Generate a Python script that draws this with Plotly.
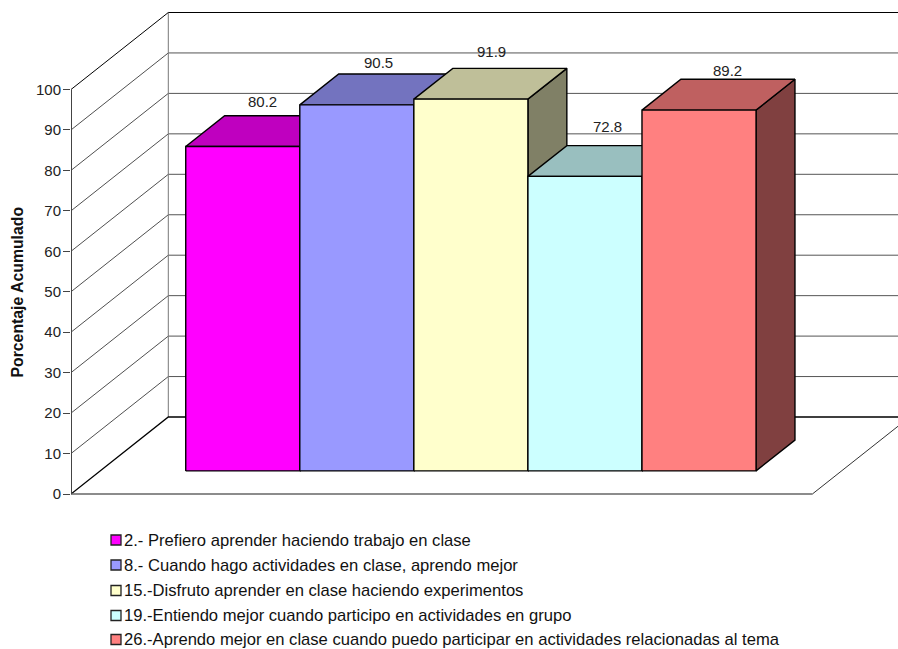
import plotly.graph_objects as go

categories = [
    "2.- Prefiero aprender haciendo trabajo en clase",
    "8.- Cuando hago actividades en clase, aprendo mejor",
    "15.-Disfruto aprender en clase haciendo experimentos",
    "19.-Entiendo mejor cuando participo en actividades en grupo",
    "26.-Aprendo mejor en clase cuando puedo participar en actividades relacionadas al tema",
]
values = [80.2, 90.5, 91.9, 72.8, 89.2]
y_ticks = list(range(0, 101, 10))
y_title = "Porcentaje Acumulado"

front_colors = ["#FF00FF", "#9999FF", "#FFFFCC", "#CCFFFF", "#FF8080"]
top_colors = ["#BF00BF", "#7373BF", "#BFBF99", "#99BFBF", "#BF6060"]
side_colors = ["#800080", "#4D4D80", "#808066", "#668080", "#804040"]

# Nudges (px) for value labels, relative to the centre of each bar's top
label_dx = [0, 2, 1, 3, 9]
label_dy = [14, 12, 17, 19, 9]

WIDTH, HEIGHT = 898, 649
LEFT = 71
ZERO_PX, HUNDRED_PX = 494, 89.5
UNIT_X = 114.06
UNIT_Y = (ZERO_PX - HUNDRED_PX) / 100
SKEW_X = 97.3 / UNIT_X      # horizontal drift per unit of depth
SKEW_Y = 77 / UNIT_Y        # vertical drift per unit of depth
FLOOR_W = 6.5
BAR_START = 0.75
DEPTH_NEAR, DEPTH_FAR = 0.30, 0.70


def proj(x, y, d):
    """Oblique projection of (category position, value, depth) onto the plane."""
    return x + SKEW_X * d, y + SKEW_Y * d


def polyline(points):
    xs, ys = zip(*[proj(*p) for p in points])
    return list(xs), list(ys)


def page_x(px):
    return (px - LEFT) / (WIDTH - LEFT)


def page_y(px):
    return 1 - px / HEIGHT


fig = go.Figure()


def add_lines(segments, color, width):
    xs, ys = [], []
    for seg in segments:
        sx, sy = polyline(seg)
        xs += sx + [None]
        ys += sy + [None]
    fig.add_trace(go.Scatter(x=xs, y=ys, mode="lines", showlegend=False, hoverinfo="skip",
                             line=dict(color=color, width=width)))


# Walls and floor
inner = [t for t in y_ticks if 0 < t < 100]
add_lines([[(0, t, 0), (0, t, 1)] for t in inner], "#222222", 0.8)
add_lines([[(0, t, 1), (FLOOR_W, t, 1)] for t in inner], "#555555", 1)
add_lines([[(0, 0, 1), (0, 100, 1)]], "#777777", 1)
add_lines([[(0, 100, 0), (0, 100, 1), (FLOOR_W, 100, 1)]], "#000000", 1)
add_lines([[(0, 0, 0), (0, 0, 1), (FLOOR_W, 0, 1)]], "#000000", 1.3)
add_lines([[(0, 0, 0), (FLOOR_W, 0, 0)]], "#666666", 1.3)
add_lines([[(FLOOR_W, 0, 0), (FLOOR_W, 0, 1)]], "#333333", 1)
add_lines([[(0, 0, 0), (0, 100, 0)]], "#444444", 2)


def add_face(points, color, name):
    xs, ys = polyline(points + [points[0]])
    fig.add_trace(go.Scatter(x=xs, y=ys, mode="lines", fill="toself", fillcolor=color,
                             name=name, showlegend=False, hoveron="fills",
                             line=dict(color="#000000", width=1.4)))


annotations = []
for i, (name, v) in enumerate(zip(categories, values)):
    x0, x1 = BAR_START + i, BAR_START + i + 1
    n, f = DEPTH_NEAR, DEPTH_FAR
    add_face([(x1, 0, n), (x1, 0, f), (x1, v, f), (x1, v, n)], side_colors[i], name)
    add_face([(x0, v, n), (x0, v, f), (x1, v, f), (x1, v, n)], top_colors[i], name)
    add_face([(x0, 0, n), (x1, 0, n), (x1, v, n), (x0, v, n)], front_colors[i], name)
    lx, ly = proj((x0 + x1) / 2, v, f)
    annotations.append(dict(x=lx - SKEW_X * (f - n) / 2, y=ly, text=f"{v:.1f}", showarrow=False,
                            xshift=label_dx[i], yshift=label_dy[i],
                            font=dict(size=15, color="#222222")))

# Axis title
annotations.append(dict(xref="paper", yref="paper", x=page_x(17.5), y=page_y(292),
                        xanchor="center", yanchor="middle",
                        text=f"<b>{y_title}</b>", textangle=-90, showarrow=False,
                        font=dict(size=15.8, color="#111111")))

# Key below the chart
shapes = []
row_y = [540, 565, 590.5, 615.5, 639.5]
for name, color, cy in zip(categories, front_colors, row_y):
    shapes.append(dict(type="rect", xref="paper", yref="paper",
                       x0=page_x(111), x1=page_x(121),
                       y0=page_y(cy + 5), y1=page_y(cy - 5),
                       fillcolor=color, line=dict(color="#222222", width=1.3)))
    annotations.append(dict(xref="paper", yref="paper", x=page_x(122.5), y=page_y(cy),
                            text=name, showarrow=False, xanchor="left", yanchor="middle",
                            borderpad=0,
                            font=dict(size=16.6, color="#111111")))

fig.update_layout(
    width=WIDTH, height=HEIGHT,
    margin=dict(l=LEFT, r=0, t=0, b=0),
    paper_bgcolor="white", plot_bgcolor="white",
    font=dict(family="Liberation Sans, Arial, sans-serif"),
    showlegend=False,
    annotations=annotations, shapes=shapes,
    xaxis=dict(range=[0, (WIDTH - LEFT) / UNIT_X], visible=False, fixedrange=True),
    yaxis=dict(range=[-(HEIGHT - ZERO_PX) / UNIT_Y, ZERO_PX / UNIT_Y],
               tickvals=y_ticks, ticks="outside", ticklen=7, tickwidth=1, tickcolor="#444444",
               showgrid=False, zeroline=False, showline=False, ticklabelstandoff=-1,
               tickfont=dict(size=15, color="#222222"), fixedrange=True),
)

fig.write_html("out.html", config=dict(displayModeBar=False))
